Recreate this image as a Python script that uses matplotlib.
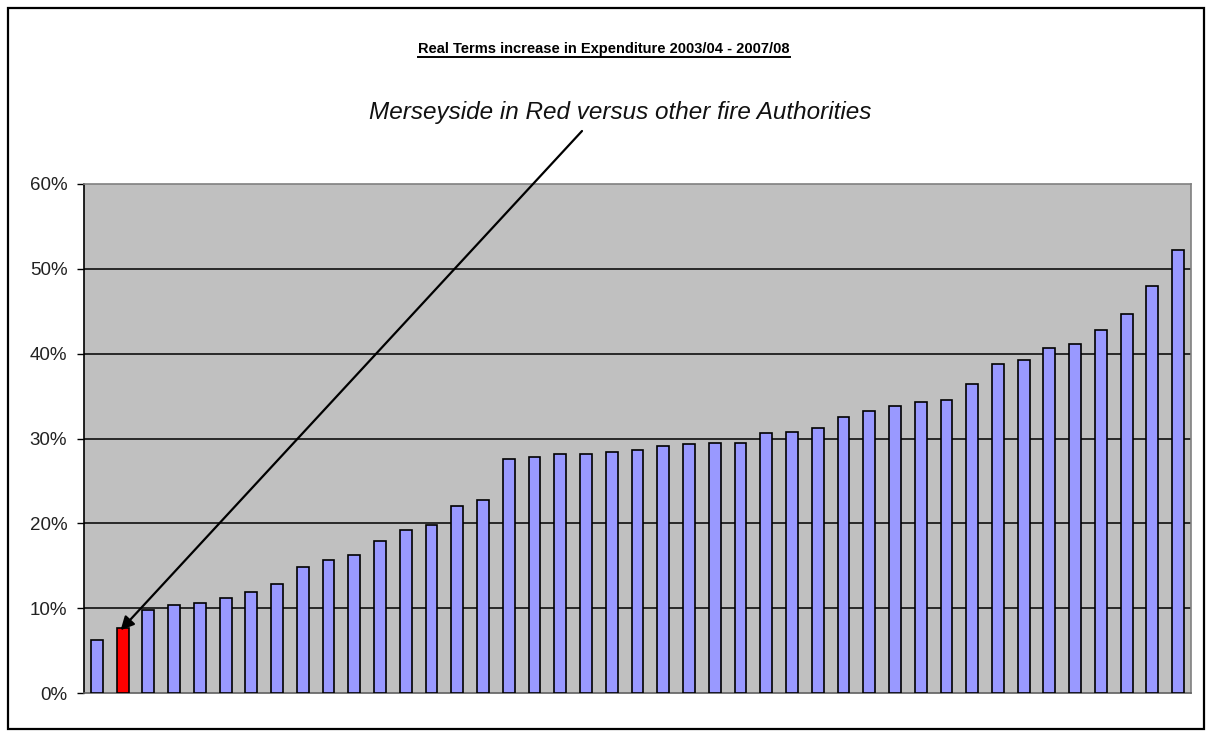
import matplotlib
matplotlib.use("Agg")
import matplotlib.pyplot as plt
from matplotlib.lines import Line2D
from matplotlib.patches import Rectangle
from matplotlib.ticker import FuncFormatter

plt.rcParams['font.family'] = ['Liberation Sans', 'DejaVu Sans']

# real terms increase per fire authority, sorted (%)
increase = [6.3, 7.7, 9.8, 10.4, 10.6, 11.2, 11.9, 12.9, 14.9, 15.7,
            16.3, 17.9, 19.2, 19.8, 22.0, 22.7, 27.6, 27.8, 28.2, 28.2,
            28.4, 28.7, 29.1, 29.3, 29.5, 29.5, 30.6, 30.8, 31.2, 32.5,
            33.2, 33.8, 34.3, 34.5, 36.4, 38.8, 39.2, 40.7, 41.1, 42.8,
            44.7, 48.0, 52.2]
merseyside_idx = 1
y_ticks = [0, 10, 20, 30, 40, 50, 60]

title = "Real Terms increase in Expenditure 2003/04 - 2007/08"
note = "Merseyside in Red versus other fire Authorities"

W, H = 1207, 731
fig = plt.figure(figsize=(W / 100, H / 100), dpi=100)
fig.patch.set_facecolor('white')

# plot area
ax = fig.add_axes([84 / W, 38 / H, 1107 / W, 509 / H])
ax.set_facecolor('#C0C0C0')

colors = ['#9999FF'] * len(increase)
colors[merseyside_idx] = '#FF0000'
x = list(range(len(increase)))
ax.bar(x, increase, width=0.46, color=colors, edgecolor='black',
       linewidth=1.2, zorder=3)

ax.set_xlim(-0.5, len(increase) - 0.5)
ax.set_ylim(0, 60)
ax.set_yticks(y_ticks)
ax.yaxis.set_major_formatter(FuncFormatter(lambda v, p: f"{v:.0f}%"))
ax.tick_params(axis='y', direction='out', length=5, width=1, labelsize=13.5,
               pad=7, colors='black')
for lbl in ax.get_yticklabels():
    lbl.set_color('#222222')
ax.set_xticks([])
for yv in y_ticks[1:-1]:
    ax.axhline(yv, color='black', linewidth=1.1, zorder=1)

for s in ['top', 'right']:
    ax.spines[s].set_color('#808080')
    ax.spines[s].set_linewidth(1.2)
ax.spines['bottom'].set_color('#606060')
ax.spines['bottom'].set_linewidth(1.2)
ax.spines['left'].set_color('black')
ax.spines['left'].set_linewidth(1.2)

# title (underlined)
t = fig.text(604 / W, 1 - 49 / H, title, ha='center', va='center',
             fontsize=10.5, fontweight='bold')
fig.canvas.draw()
bb = t.get_window_extent()
fig.add_artist(Line2D([bb.x0 / W, bb.x1 / W], [(bb.y0 - 1) / H, (bb.y0 - 1) / H],
                      transform=fig.transFigure, color='black', linewidth=1.4))

# annotation with arrow to Merseyside bar
fig.text(620 / W, 1 - 112 / H, note, ha='center', va='center',
         fontsize=17.5, style='italic', color='#111111')
ax.annotate('', xy=(merseyside_idx - 0.08, increase[merseyside_idx] - 0.3),
            xycoords='data',
            xytext=(582, H - 131), textcoords='figure pixels',
            arrowprops=dict(arrowstyle='-|>', color='black', lw=1.6,
                            mutation_scale=20, shrinkA=0, shrinkB=0),
            zorder=5)

# outer chart frame
fig.add_artist(Rectangle((8 / W, 2 / H), 1196 / W, 721 / H,
                         transform=fig.transFigure, fill=False,
                         edgecolor='black', linewidth=1.6))

fig.savefig("out.png", dpi=100)
